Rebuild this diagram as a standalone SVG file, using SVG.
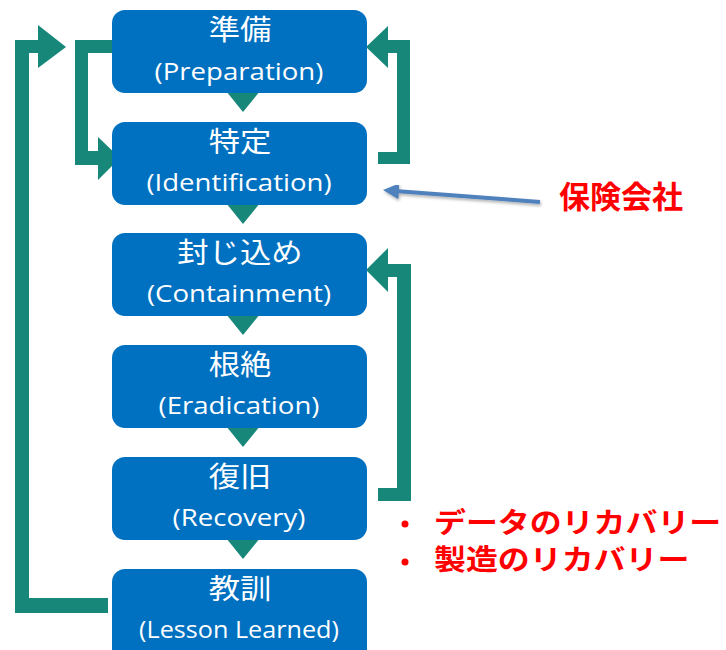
<svg xmlns="http://www.w3.org/2000/svg" width="726" height="650" viewBox="0 0 726 650">
<style>
.box{fill:#0070c0}
.g{fill:#17877a}
.jp{font-family:"Noto Sans CJK JP","Noto Sans",sans-serif;font-size:28px;fill:#fff;text-anchor:middle}
.en{font-family:"Open Sans","Noto Sans",sans-serif;font-size:24px;fill:#fff;text-anchor:middle}
.red{font-family:"Noto Sans CJK JP",sans-serif;font-weight:bold;fill:#ff0000}
</style>
<defs>
<filter id="sh" x="-10%" y="-50%" width="120%" height="200%">
<feDropShadow dx="1" dy="2" stdDeviation="1.5" flood-color="#000" flood-opacity="0.3"/>
</filter>
<marker id="ah" markerWidth="4" markerHeight="4" refX="1" refY="2" orient="auto" markerUnits="strokeWidth">
<path d="M0,0 L4,2 L0,4 z" fill="#4f81bd"/>
</marker>
</defs>
<rect width="726" height="650" fill="#fff"/>
<g id="connectors">
<!-- outer left loop: Lesson Learned -> Preparation -->
<path class="g" d="M108,598 L108,613 L15,613 L15,40 L38,40 L38,25 L66,47 L38,68 L38,53 L29,53 L29,598 Z"/>
<!-- inner left bracket: Preparation -> Identification -->
<path class="g" d="M112,40 L112,53 L88,53 L88,151 L98,151 L98,137 L120,158 L98,180 L98,165 L75,165 L75,40 Z"/>
<!-- right top bracket: Identification -> Preparation -->
<path class="g" d="M378,152 L397,152 L397,53 L388,53 L388,68 L366,47 L388,26 L388,40 L410,40 L410,164 L378,164 Z"/>
<!-- right lower loop: Recovery -> Containment -->
<path class="g" d="M378,488 L397,488 L397,277 L388,277 L388,292 L366,270 L388,248 L388,264 L411,264 L411,501 L378,501 Z"/>
<!-- down triangles -->
<path class="g" d="M226,91 L260,91 L243,112 Z"/>
<path class="g" d="M226,203 L260,203 L243,224 Z"/>
<path class="g" d="M226,314 L260,314 L243,335 Z"/>
<path class="g" d="M226,426 L260,426 L243,447 Z"/>
<path class="g" d="M226,538 L260,538 L243,559 Z"/>
<!-- blue arrow -->
<line x1="540" y1="202" x2="395" y2="191" stroke="#4f81bd" stroke-width="4" marker-end="url(#ah)" filter="url(#sh)"/>
</g>
<g id="n1"><rect class="box" x="112" y="10" width="255" height="83" rx="13"/>
<text class="jp" transform="translate(240,40) scale(1.12,1)">準備</text>
<text class="en" transform="translate(239,80) scale(1.15,1)">(Preparation)</text></g>
<g id="n2"><rect class="box" x="112" y="122" width="255" height="83" rx="13"/>
<text class="jp" transform="translate(240,152) scale(1.12,1)">特定</text>
<text class="en" transform="translate(239,191) scale(1.15,1)">(Identification)</text></g>
<g id="n3"><rect class="box" x="112" y="233" width="255" height="83" rx="13"/>
<text class="jp" transform="translate(240,263) scale(1.12,1)">封じ込め</text>
<text class="en" transform="translate(239,302) scale(1.15,1)">(Containment)</text></g>
<g id="n4"><rect class="box" x="112" y="345" width="255" height="83" rx="13"/>
<text class="jp" transform="translate(240,375) scale(1.12,1)">根絶</text>
<text class="en" transform="translate(239,414) scale(1.15,1)">(Eradication)</text></g>
<g id="n5"><rect class="box" x="112" y="457" width="255" height="83" rx="13"/>
<text class="jp" transform="translate(240,487) scale(1.12,1)">復旧</text>
<text class="en" transform="translate(239,526) scale(1.15,1)">(Recovery)</text></g>
<g id="n6"><rect class="box" x="112" y="569" width="255" height="100" rx="13"/>
<text class="jp" transform="translate(240,599) scale(1.12,1)">教訓</text>
<text class="en" transform="translate(239,638) scale(1.05,1)">(Lesson Learned)</text></g>
<g id="labels">
<text class="red" font-size="31" x="559" y="208">保険会社</text>
<circle cx="405" cy="524" r="3.5" fill="#ff0000"/>
<circle cx="405" cy="562" r="3.5" fill="#ff0000"/>
<text class="red" font-size="28" transform="translate(434,533) scale(1.14,1)">データのリカバリー</text>
<text class="red" font-size="28" transform="translate(434,570) scale(1.14,1)">製造のリカバリー</text>
</g>
</svg>
